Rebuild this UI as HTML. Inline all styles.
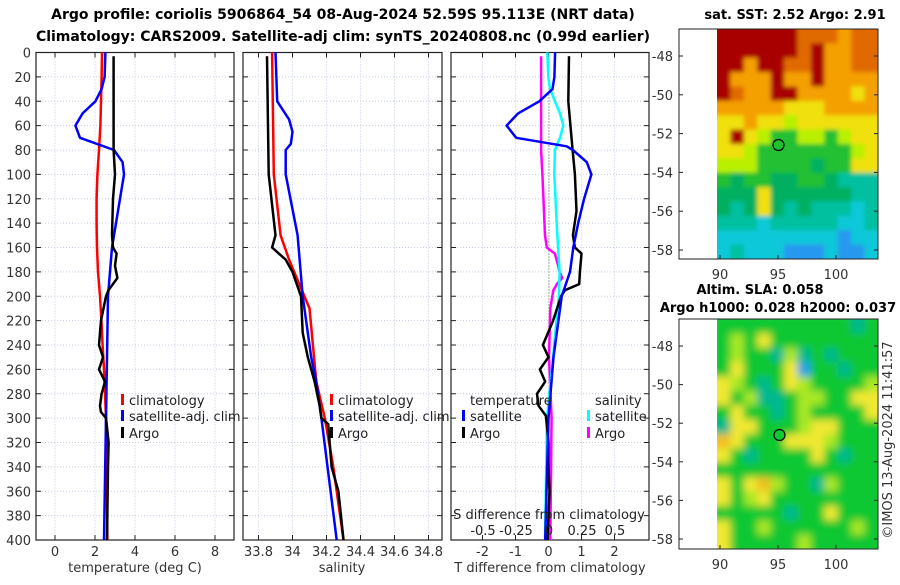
<!DOCTYPE html>
<html><head><meta charset="utf-8"><style>
body{margin:0;background:#fff;width:900px;height:580px;overflow:hidden}
svg{font-family:"DejaVu Sans","Liberation Sans",sans-serif}
</style></head><body>
<svg id="c" width="900" height="580" xmlns="http://www.w3.org/2000/svg">
<defs>
<filter id="b1" x="-5%" y="-5%" width="110%" height="110%"><feGaussianBlur stdDeviation="2"/></filter>
<filter id="b2" x="-5%" y="-5%" width="110%" height="110%"><feGaussianBlur stdDeviation="4"/></filter>
<clipPath id="cp1"><rect x="717" y="29" width="161" height="230"/></clipPath>
<clipPath id="cp2"><rect x="717" y="319" width="161" height="230"/></clipPath>
</defs>
<text x="343" y="19" text-anchor="middle" font-size="14" font-weight="bold">Argo profile: coriolis 5906864_54 08-Aug-2024 52.59S 95.113E (NRT data)</text>
<text x="343" y="41" text-anchor="middle" font-size="14" font-weight="bold">Climatology: CARS2009. Satellite-adj clim: synTS_20240808.nc (0.99d earlier)</text>
<text x="795" y="19" text-anchor="middle" font-size="13" font-weight="bold">sat. SST: 2.52 Argo: 2.91</text>
<text x="760" y="294" text-anchor="middle" font-size="13" font-weight="bold">Altim. SLA: 0.058</text>
<text x="778" y="312" text-anchor="middle" font-size="13" font-weight="bold">Argo h1000: 0.028 h2000: 0.037</text>
<text transform="translate(892,440) rotate(-90)" text-anchor="middle" font-size="13" fill="#333">©IMOS 13-Aug-2024 11:41:57</text>
<g id="g"></g>
</svg>
<script>
// ---- data ----
const depthTicks=[0,20,40,60,80,100,120,140,160,180,200,220,240,260,280,300,320,340,360,380,400];
const tempTicks=[0,2,4,6,8];
const salTicks=[33.8,34,34.2,34.4,34.6,34.8];
const tdiffTicks=[-2,-1,0,1,2];
const sdiffTicks=[-0.5,-0.25,0,0.25,0.5];
const climTDepth=[0,20,40,60,80,100,120,140,160,180,200,220,240,260,280,300,340,400];
const climTValue=[2.35,2.33,2.3,2.27,2.2,2.12,2.08,2.08,2.1,2.15,2.25,2.32,2.38,2.45,2.5,2.55,2.58,2.62];
const satTDepth=[0,20,30,40,50,60,70,80,90,100,120,140,160,180,200,250,300,400];
const satTValue=[2.52,2.48,2.33,2.02,1.38,1.02,1.25,2.95,3.38,3.45,3.25,3.05,2.85,2.75,2.65,2.6,2.55,2.45];
const argoTDepth=[3,80,100,120,150,160,165,175,185,195,200,220,240,250,260,270,280,290,295,300,320,340,400];
const argoTValue=[2.93,2.93,3.0,2.9,2.85,2.9,3.08,3.0,3.12,2.67,2.55,2.3,2.2,2.4,2.2,2.5,2.33,2.25,2.3,2.55,2.68,2.65,2.6];
const climSDepth=[0,100,150,170,190,210,240,270,300,340,400];
const climSValue=[33.88,33.89,33.93,33.98,34.04,34.1,34.12,34.14,34.19,34.24,34.3];
const satSDepth=[0,40,55,65,75,80,100,150,200,250,270,300,400];
const satSValue=[33.9,33.91,33.98,34.0,33.99,33.96,33.96,34.03,34.06,34.11,34.14,34.17,34.26];
const argoSDepth=[3,100,150,160,170,180,200,230,250,270,290,300,305,340,360,400];
const argoSValue=[33.85,33.86,33.9,33.88,33.96,34.0,34.05,34.06,34.09,34.13,34.16,34.17,34.21,34.23,34.27,34.3];
const dTsatDepth=[0,20,30,40,50,60,70,77,80,90,100,120,140,160,180,200,250,300,400];
const dTsatValue=[0.2,0.18,0.12,-0.28,-0.92,-1.27,-0.98,0.55,0.74,1.16,1.3,1.08,0.9,0.75,0.65,0.4,0.15,0,-0.1];
const dTargoDepth=[3,40,80,100,130,150,160,165,180,190,195,200,220,240,250,260,270,280,290,298,320,340,360,400];
const dTargoValue=[0.62,0.6,0.73,0.8,0.85,0.74,0.8,1.0,0.95,0.93,0.5,0.38,0.14,-0.17,0,-0.26,-0.1,-0.35,-0.3,-0.08,0,0,0.03,-0.03];
const dSsatDepth=[0,20,30,40,50,60,70,80,100,150,180,200,250,300,400];
const dSsatValue=[-0.013,-0.005,0.008,0.045,0.083,0.108,0.083,0.045,0.04,0.063,0.08,0.075,0.03,-0.015,-0.03];
const dSargoDepth=[3,80,100,150,160,165,175,180,185,190,195,200,210,250,300,400];
const dSargoValue=[-0.06,-0.06,-0.05,-0.03,-0.017,0.045,0.07,0.08,0.1,0.06,0.033,0.025,0.01,0,0.02,0.01];
const latTicks=[-48,-50,-52,-54,-56,-58];
const lonTicks=[90,95,100];
const sstGrid=["RRRRRROOOoOO","RRRRRRORooOO","RRoRROORooOO","RoooRooRoooo","ROooRRooooYo","oooooYYYoooo","YYoYYyYYYYYY","YRYyGGyyGyYY","YYyGGGGGGGyY","yyyGGGGgGGYY","GgGGggGGgCCC","gggYggggggCC","gCgYgCgCCCcC","CCCcCCCCCccC","cccccccccBcc","cCcccBBBcBBc"];
const slaGrid=["GGGGGGGGGGCG","GyGYGGGGGGGG","GyGGCyCGCGGG","GYGGGYBGGCGG","YyGCGYyGGGGy","YGyCCGyyGGYY","GYGGCGyGGGGY","CYYGGGyYYGGG","OYGGGYYYyGGG","YGCGGGGYGCGG","GGGGGGGGGGGG","YGYOyGGCyGGG","YGyYGGGGGGGG","GGGGGCGGYGGG","YGGyGGGGGGyG","YGGGGGyGGGGG"];
// ---- drawing ----
const NS="http://www.w3.org/2000/svg",G=document.getElementById('g');
function mk(t,a,p){const e=document.createElementNS(NS,t);for(const k in a)e.setAttribute(k,a[k]);(p||G).appendChild(e);return e;}
const Y0=52.5,YS=(540-52.5)/400;
const yD=d=>Y0+d*YS;
const xT=t=>55+20*t, xS=s=>292.5+170*(s-34), xDT=d=>548.5+33*d, xDS=d=>549+132*d;
const panels=[[36,234,'temperature-panel'],[243,442,'salinity-panel'],[451,649,'difference-panel']];
panels.forEach((p,i)=>{
 const [l,r,nm]=p;
 depthTicks.forEach(d=>{
  const ln=mk('line',{x1:l,x2:r,y1:yD(d),y2:yD(d),stroke:'#c4cce6','stroke-width':1,'stroke-dasharray':'1,2'});
  
  mk('line',{x1:l,x2:l+5,y1:yD(d),y2:yD(d),stroke:'#222'});mk('line',{x1:r-5,x2:r,y1:yD(d),y2:yD(d),stroke:'#222'});
  if(i==0){const t=mk('text',{x:l-5,y:yD(d)+5,'text-anchor':'end','font-size':13,fill:'#333'});t.textContent=d;
   }
 });
 const ticks=i==0?tempTicks:i==1?salTicks:tdiffTicks, fx=i==0?xT:i==1?xS:xDT;
 ticks.forEach(v=>{const x=fx(v);
  mk('line',{x1:x,x2:x,y1:Y0,y2:540,stroke:'#c4cce6','stroke-dasharray':'1,2'});
  mk('line',{x1:x,x2:x,y1:540,y2:535,stroke:'#222'});mk('line',{x1:x,x2:x,y1:Y0,y2:Y0+5,stroke:'#222'});
  const t=mk('text',{x:x,y:556,'text-anchor':'middle','font-size':13,fill:'#333'});t.textContent=v;
  });
 const fr=mk('rect',{x:l,y:Y0,width:r-l,height:540-Y0,fill:'none',stroke:'#222','stroke-width':1.2});
 
});
[['temperature (deg C)',135],['salinity',342],['T difference from climatology',550]].forEach(([s,x])=>{
 const t=mk('text',{x:x,y:572,'text-anchor':'middle','font-size':13,fill:'#333'});t.textContent=s;
 });
mk('line',{x1:549,x2:549,y1:Y0,y2:540,stroke:'#556b2f','stroke-dasharray':'1,2'});
function series(ds,vs,fx,col,w,name){
 const pts=ds.map((d,i)=>fx(vs[i]).toFixed(1)+','+yD(d).toFixed(1)).join(' ');
 const e=mk('polyline',{points:pts,fill:'none',stroke:col,'stroke-width':w,'stroke-linejoin':'round'});
 }
series(climTDepth,climTValue,xT,'#f00',2.5,'temp-climatology-line');
series(satTDepth,satTValue,xT,'#00f',2.5,'temp-satellite-line');
series(argoTDepth,argoTValue,xT,'#000',2.5,'temp-argo-line');
series(climSDepth,climSValue,xS,'#f00',2.5,'sal-climatology-line');
series(satSDepth,satSValue,xS,'#00f',2.5,'sal-satellite-line');
series(argoSDepth,argoSValue,xS,'#000',2.5,'sal-argo-line');
series(dSargoDepth,dSargoValue,xDS,'#f0f',2.5,'sdiff-argo-line');
series(dSsatDepth,dSsatValue,xDS,'#0ff',2.5,'sdiff-satellite-line');
series(dTargoDepth,dTargoValue,xDT,'#000',2.5,'tdiff-argo-line');
series(dTsatDepth,dTsatValue,xDT,'#00f',2.5,'tdiff-satellite-line');
function leg(x,y,col,txt){mk('rect',{x:x,y:y-11,width:3,height:11,fill:col});
 const t=mk('text',{x:x+8,y:y,'font-size':13,fill:'#222'});t.textContent=txt;
 }
leg(121,405,'#f00','climatology');leg(121,421,'#00f','satellite-adj. clim');leg(121,438,'#000','Argo');
leg(330,405,'#f00','climatology');leg(330,421,'#00f','satellite-adj. clim');leg(330,438,'#000','Argo');
{const t=mk('text',{x:470,y:405,'font-size':13,fill:'#222'});t.textContent='temperature';
 const u=mk('text',{x:595,y:405,'font-size':13,fill:'#222'});u.textContent='salinity';}
leg(462,421,'#00f','satellite');leg(462,438,'#000','Argo');
leg(587,421,'#0ff','satellite');leg(587,438,'#f0f','Argo');
{const t=mk('text',{x:549,y:519,'text-anchor':'middle','font-size':13,fill:'#222'});t.textContent='S difference from climatology';
 }
sdiffTicks.forEach(v=>{const t=mk('text',{x:xDS(v),y:535,'text-anchor':'middle','font-size':13,fill:'#222'});t.textContent=v;
 });
// maps
const pal={R:'#a80000',O:'#e06a00',o:'#f4a000',Y:'#f0e010',y:'#b8f000',G:'#20c030',g:'#00b060',C:'#00c0a0',c:'#10c8d8',B:'#2898f0'};
const pal2={G:'#10c830',y:'#a8e828',Y:'#f0e830',O:'#f0c020',C:'#00b890',B:'#20a0e8'};
function map(top,bot,grid,p,lat48,latS,mx,my,nm,clip,filt){
 const l=679,r=878,dl=717;
 const cg=mk('g',{'clip-path':'url(#'+clip+')'});
 const bg=mk('g',{filter:'url(#'+filt+')'},cg);
 const cw=(r-dl)/12,ch=(bot-top)/grid.length;
 grid.forEach((row,i)=>[...row].forEach((c,j)=>{
   const x=dl+j*cw-(j==0?6:0),w=cw+0.5+(j==0?6:0)+(j==11?6:0);
   const y=top+i*ch-(i==0?6:0),h=ch+0.5+(i==0?6:0)+(i==grid.length-1?6:0);
   mk('rect',{x:x,y:y,width:w,height:h,fill:p[c]},bg);}));
 const fr=mk('rect',{x:l,y:top,width:r-l,height:bot-top,fill:'none',stroke:'#222'});
 
 latTicks.forEach(v=>{const y=lat48+(-48-v)*latS;
  mk('line',{x1:l,x2:l+4,y1:y,y2:y,stroke:'#222'});mk('line',{x1:r-4,x2:r,y1:y,y2:y,stroke:'#222'});
  const t=mk('text',{x:673,y:y+5,'text-anchor':'end','font-size':13,fill:'#333'});t.textContent=v;
  });
 lonTicks.forEach(v=>{const x=720+(v-90)*11.6;
  mk('line',{x1:x,x2:x,y1:bot,y2:bot-4,stroke:'#222'});
  const t=mk('text',{x:x,y:bot+20,'text-anchor':'middle','font-size':13,fill:'#333'});t.textContent=v;
  });
 const m=mk('circle',{cx:mx,cy:my,r:5.5,fill:p.G||'#20c030',stroke:'#000','stroke-width':1.2});
 
}
map(29,259,sstGrid,pal,56,19.4,778.5,145,'sst-map','cp1','b1');
map(319,549,slaGrid,pal2,346,19.3,779.5,435,'sla-map','cp2','b2');
</script>
</body></html>
